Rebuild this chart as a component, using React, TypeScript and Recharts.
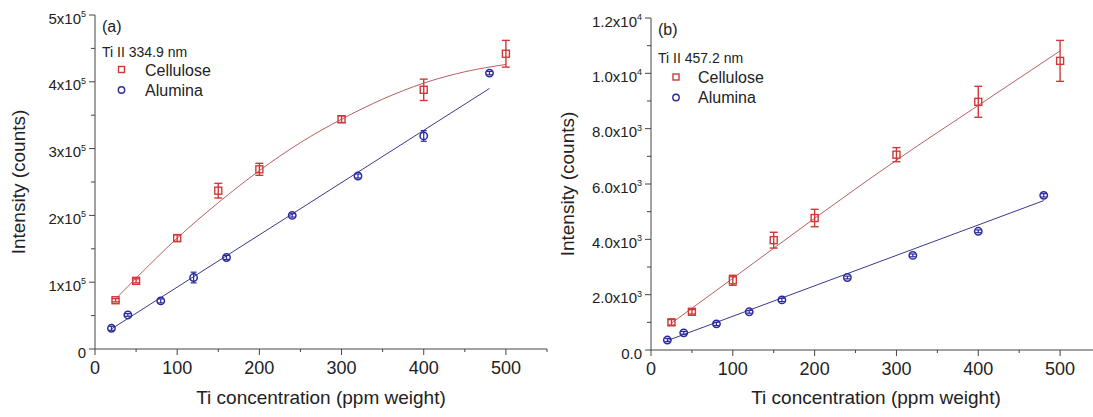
import {
  ComposedChart,
  Scatter,
  Line,
  XAxis,
  YAxis,
  ErrorBar,
  Legend,
  Label
} from 'recharts';

// panel (a) Ti II 334.9 nm
const celluloseConcA = [25, 50, 100, 150, 200, 300, 400, 500];
const celluloseIntA = [73000, 102000, 166000, 237000, 269000, 344000, 388000, 442000];
const celluloseErrA = [2500, 3000, 5000, 11000, 9000, 5000, 16000, 20000];
const aluminaConcA = [20, 40, 80, 120, 160, 240, 320, 400, 480];
const aluminaIntA = [31000, 51000, 72000, 107000, 137000, 200000, 259000, 319000, 413000];
const aluminaErrA = [3000, 2000, 3000, 8000, 3000, 2500, 3000, 8000, 2500];
// fitted curves
const celluloseFitConcA = [25, 50, 100, 150, 200, 250, 300, 350, 400, 450, 500];
const celluloseFitIntA = [75000, 106000, 166000, 219000, 267000, 309000, 344000, 374000, 398000, 415000, 426000];
const aluminaFitConcA = [20, 480];
const aluminaFitIntA = [30000, 390000];

// panel (b) Ti II 457.2 nm
const celluloseConcB = [25, 50, 100, 150, 200, 300, 400, 500];
const celluloseIntB = [1000, 1380, 2520, 3970, 4770, 7060, 8970, 10450];
const celluloseErrB = [100, 80, 180, 285, 315, 255, 560, 740];
const aluminaConcB = [20, 40, 80, 120, 160, 240, 320, 400, 480];
const aluminaIntB = [360, 620, 945, 1380, 1810, 2620, 3420, 4290, 5590];
const aluminaErrB = [60, 50, 60, 50, 60, 50, 50, 50, 60];
const celluloseFitConcB = [25, 100, 200, 300, 400, 500];
const celluloseFitIntB = [970, 2590, 4760, 6860, 8840, 10810];
const aluminaFitConcB = [20, 480];
const aluminaFitIntB = [340, 5400];

// axes
const xMajor = [0, 100, 200, 300, 400, 500];
const xMinor = [50, 150, 250, 350, 450, 550];
const yMajorA = [0, 100000, 200000, 300000, 400000, 500000];
const yBaseA = ['0', '1x10', '2x10', '3x10', '4x10', '5x10'];
const yExpA = ['', '5', '5', '5', '5', '5'];
const yMinorA = [50000, 150000, 250000, 350000, 450000];
const yMajorB = [0, 2000, 4000, 6000, 8000, 10000, 12000];
const yBaseB = ['0.0', '2.0x10', '4.0x10', '6.0x10', '8.0x10', '1.0x10', '1.2x10'];
const yExpB = ['', '3', '3', '3', '3', '4', '4'];
const yMinorB = [1000, 3000, 5000, 7000, 9000, 11000];

const seriesNames = ['Cellulose', 'Alumina'];

const RED = '#d23838';
const RED_FIT = '#b86060';
const BLUE = '#2a2a9e';
const BLUE_FIT = '#3a3a8c';
const INK = '#222';
const AXIS = '#444';

const zip = (xs: number[], ys: number[], es?: number[]) =>
  xs.map((x, i) => ({ x, y: ys[i], err: es ? es[i] : 0 }));

const Square = (p: any) => {
  if (p.cx == null) return null;
  return <rect x={p.cx - 3.5} y={p.cy - 3.5} width={7} height={7} fill="none" stroke={RED} strokeWidth={1.4} />;
};

const Circle = (p: any) => {
  if (p.cx == null) return null;
  return <circle cx={p.cx} cy={p.cy} r={3.7} fill="none" stroke={BLUE} strokeWidth={1.5} />;
};

const xTick = (p: any) => {
  const v = p.payload.value;
  const major = xMajor.includes(v);
  return (
    <g>
      <line x1={p.x} x2={p.x} y1={p.y} y2={p.y + (major ? 6 : 3)} stroke={AXIS} />
      {major && (
        <text x={p.x} y={p.y + 25} textAnchor="middle" fontSize={18} fill={INK}>
          {v}
        </text>
      )}
    </g>
  );
};

const makeYTick = (majors: number[], bases: string[], exps: string[]) => (p: any) => {
  const v = p.payload.value;
  const i = majors.indexOf(v);
  return (
    <g>
      <line x1={p.x - (i >= 0 ? 6 : 4)} x2={p.x} y1={p.y} y2={p.y} stroke={AXIS} />
      {i >= 0 && (
        <text x={p.x - 9} y={p.y + 8.5} textAnchor="end" fontSize={15} fill={INK}>
          <tspan>{bases[i]}</tspan>
          {exps[i] && (
            <tspan dy={-6.5} fontSize={9}>
              {exps[i]}
            </tspan>
          )}
        </text>
      )}
    </g>
  );
};

type Pt = { x: number; y: number; err: number };

type PanelProps = {
  left: number;
  width: number;
  tag: string;
  line: string;
  yMax: number;
  yMajor: number[];
  yMinor: number[];
  yBase: string[];
  yExp: string[];
  cellulose: Pt[];
  alumina: Pt[];
  cellFit: Pt[];
  aluFit: Pt[];
  top: number;
  axisW: number;
  axisH: number;
  rightM: number;
  titleX: number;
  key0: { tagX: number; tagY: number; lineY: number; mx: number; my1: number; my2: number; tx: number; ty1: number; ty2: number };
};

function Panel(props: PanelProps) {
  const k = props.key0;
  const plotMid = (props.top + (417 - props.axisH)) / 2;
  return (
    <div style={{ position: 'absolute', left: props.left, top: 0 }}>
      <ComposedChart
        width={props.width}
        height={417}
        margin={{ top: props.top, right: props.rightM, bottom: 0, left: 0 }}
      >
        <XAxis
          type="number"
          dataKey="x"
          domain={[0, 550]}
          ticks={[...xMajor, ...xMinor].sort((a, b) => a - b)}
          interval={0}
          tickSize={0}
          tickMargin={0}
          height={props.axisH}
          stroke={AXIS}
          tick={xTick}
        >
          <Label
            value="Ti concentration (ppm weight)"
            position="insideBottom"
            offset={13}
            fontSize={19}
            fill={INK}
          />
        </XAxis>
        <YAxis
          type="number"
          dataKey="y"
          domain={[0, props.yMax]}
          ticks={[...props.yMajor, ...props.yMinor].sort((a, b) => a - b)}
          interval={0}
          tickSize={0}
          tickMargin={0}
          width={props.axisW}
          stroke={AXIS}
          tick={makeYTick(props.yMajor, props.yBase, props.yExp)}
        >
          <Label
            content={() => (
              <text
                x={props.titleX}
                y={plotMid}
                transform={`rotate(-90 ${props.titleX} ${plotMid})`}
                textAnchor="middle"
                fontSize={19}
                fill={INK}
              >
                Intensity (counts)
              </text>
            )}
          />
        </YAxis>
        <Line
          data={props.cellFit}
          dataKey="y"
          type="monotone"
          stroke={RED_FIT}
          strokeWidth={1}
          dot={false}
          legendType="none"
          isAnimationActive={false}
        />
        <Line
          data={props.aluFit}
          dataKey="y"
          type="linear"
          stroke={BLUE_FIT}
          strokeWidth={1}
          dot={false}
          legendType="none"
          isAnimationActive={false}
        />
        <Scatter name={seriesNames[0]} data={props.cellulose} fill={RED} shape={Square} isAnimationActive={false}>
          <ErrorBar dataKey="err" direction="y" width={4} stroke={RED} strokeWidth={1.4} />
        </Scatter>
        <Scatter name={seriesNames[1]} data={props.alumina} fill={BLUE} shape={Circle} isAnimationActive={false}>
          <ErrorBar dataKey="err" direction="y" width={3} stroke={BLUE} strokeWidth={1.2} />
        </Scatter>
        <Legend
          layout="horizontal"
          verticalAlign="middle"
          align="center"
          wrapperStyle={{ left: 0, top: 0, width: 270, height: 110 }}
          content={() => (
            <svg width={270} height={110} style={{ fontFamily: '"Liberation Sans", Arial, sans-serif' }}>
              <text x={k.tagX} y={k.tagY} fontSize={16} fill={INK}>{props.tag}</text>
              <text x={k.tagX} y={k.lineY} fontSize={14} fill={INK}>{props.line}</text>
              <rect x={k.mx - 3} y={k.my1 - 3} width={6} height={6} fill="none" stroke={RED} strokeWidth={1.4} />
              <text x={k.tx} y={k.ty1} fontSize={16} fill={INK}>{seriesNames[0]}</text>
              <circle cx={k.mx} cy={k.my2} r={3.2} fill="none" stroke={BLUE} strokeWidth={1.4} />
              <text x={k.tx} y={k.ty2} fontSize={16} fill={INK}>{seriesNames[1]}</text>
            </svg>
          )}
        />
      </ComposedChart>
    </div>
  );
}

export default function App() {
  return (
    <div
      style={{
        position: 'absolute',
        left: 0,
        top: 0,
        width: 1093,
        height: 417,
        overflow: 'hidden',
        background: '#fff',
        fontFamily: '"Liberation Sans", Arial, sans-serif'
      }}
    >
      <Panel
        left={0}
        width={560}
        tag="(a)"
        line="Ti II 334.9 nm"
        yMax={500000}
        yMajor={yMajorA}
        yMinor={yMinorA}
        yBase={yBaseA}
        yExp={yExpA}
        cellulose={zip(celluloseConcA, celluloseIntA, celluloseErrA)}
        alumina={zip(aluminaConcA, aluminaIntA, aluminaErrA)}
        cellFit={zip(celluloseFitConcA, celluloseFitIntA)}
        aluFit={zip(aluminaFitConcA, aluminaFitIntA)}
        top={15}
        axisW={95}
        axisH={68}
        rightM={13}
        titleX={25}
        key0={{ tagX: 102, tagY: 32, lineY: 56.5, mx: 121.5, my1: 69.5, my2: 90, tx: 145, ty1: 75.5, ty2: 95.5 }}
      />
      <Panel
        left={550}
        width={570}
        tag="(b)"
        line="Ti II 457.2 nm"
        yMax={12000}
        yMajor={yMajorB}
        yMinor={yMinorB}
        yBase={yBaseB}
        yExp={yExpB}
        cellulose={zip(celluloseConcB, celluloseIntB, celluloseErrB)}
        alumina={zip(aluminaConcB, aluminaIntB, aluminaErrB)}
        cellFit={zip(celluloseFitConcB, celluloseFitIntB)}
        aluFit={zip(aluminaFitConcB, aluminaFitIntB)}
        top={18}
        axisW={101}
        axisH={67}
        rightM={19}
        titleX={23.5}
        key0={{ tagX: 108, tagY: 35, lineY: 63, mx: 126, my1: 77, my2: 97.5, tx: 148, ty1: 82.5, ty2: 102.5 }}
      />
    </div>
  );
}
